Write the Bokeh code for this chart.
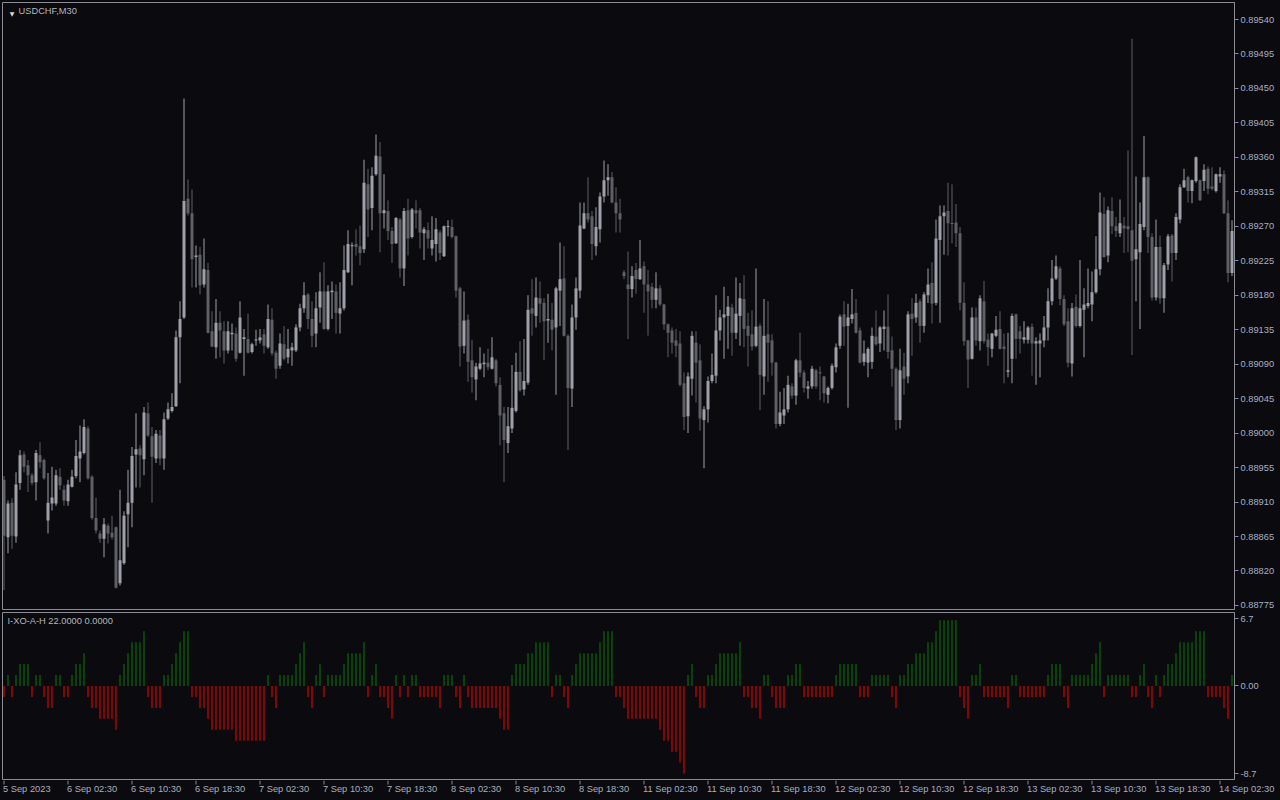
from bokeh.plotting import figure
from bokeh.layouts import column
from bokeh.models import (Range1d, LinearAxis, FixedTicker, PrintfTickFormatter,
                          ColumnDataSource, Label, GlobalInlineStyleSheet)
from bokeh.core.properties import value
from bokeh.embed import file_html
from bokeh.resources import INLINE

symbol_title = "USDCHF,M30"
indicator_title = "I-XO-A-H 22.0000 0.0000"

# ---- USDCHF M30 candles (5 Sep 2023 18:30 .. 14 Sep 2023 04:00) ----
open_ = [
    0.88939, 0.88864, 0.88909, 0.88865, 0.88935, 0.88972, 0.88958, 0.88945, 0.88936, 0.88971,
    0.88965, 0.88886, 0.88908, 0.88908, 0.88943, 0.88926, 0.88911, 0.88930, 0.88944, 0.88967,
    0.88974, 0.89006, 0.88943, 0.88889, 0.88869, 0.88862, 0.88879, 0.88870, 0.88877, 0.88804,
    0.88830, 0.88894, 0.88909, 0.88972, 0.88980, 0.88966, 0.89026, 0.88996, 0.88967, 0.88997,
    0.88967, 0.89019, 0.89029, 0.89035, 0.89125, 0.89151, 0.89306, 0.89287, 0.89230, 0.89233,
    0.89194, 0.89213, 0.89133, 0.89112, 0.89144, 0.89133, 0.89108, 0.89129, 0.89130, 0.89105,
    0.89123, 0.89123, 0.89106, 0.89121, 0.89121, 0.89129, 0.89112, 0.89148, 0.89105, 0.89088,
    0.89116, 0.89099, 0.89108, 0.89108, 0.89138, 0.89163, 0.89181, 0.89149, 0.89130, 0.89164,
    0.89185, 0.89136, 0.89184, 0.89185, 0.89156, 0.89163, 0.89210, 0.89244, 0.89247, 0.89244,
    0.89240, 0.89325, 0.89294, 0.89338, 0.89361, 0.89287, 0.89290, 0.89264, 0.89248, 0.89279,
    0.89215, 0.89291, 0.89256, 0.89291, 0.89291, 0.89261, 0.89265, 0.89241, 0.89247, 0.89262,
    0.89231, 0.89269, 0.89269, 0.89257, 0.89189, 0.89114, 0.89148, 0.89095, 0.89070, 0.89084,
    0.89090, 0.89092, 0.89084, 0.89095, 0.89063, 0.89026, 0.88987, 0.89006, 0.89029, 0.89080,
    0.89057, 0.89066, 0.89163, 0.89153, 0.89176, 0.89170, 0.89147, 0.89148, 0.89138, 0.89186,
    0.89202, 0.89127, 0.89058, 0.89151, 0.89186, 0.89267, 0.89287, 0.89283, 0.89244, 0.89266,
    0.89309, 0.89330, 0.89334, 0.89301, 0.89287, 0.89210, 0.89194, 0.89188, 0.89213, 0.89201,
    0.89218, 0.89194, 0.89191, 0.89174, 0.89189, 0.89168, 0.89142, 0.89134, 0.89121, 0.89117,
    0.89065, 0.89022, 0.89071, 0.89118, 0.89095, 0.89017, 0.89031, 0.89068, 0.89075, 0.89134,
    0.89151, 0.89153, 0.89164, 0.89131, 0.89153, 0.89175, 0.89140, 0.89129, 0.89114, 0.89140,
    0.89074, 0.89129, 0.89121, 0.89092, 0.89012, 0.89023, 0.89031, 0.89061, 0.89049, 0.89095,
    0.89079, 0.89058, 0.89061, 0.89082, 0.89079, 0.89074, 0.89050, 0.89059, 0.89086, 0.89114,
    0.89155, 0.89140, 0.89149, 0.89157, 0.89134, 0.89093, 0.89092, 0.89093, 0.89126, 0.89117,
    0.89136, 0.89139, 0.89108, 0.89084, 0.89017, 0.89087, 0.89074, 0.89156, 0.89151, 0.89172,
    0.89140, 0.89180, 0.89196, 0.89170, 0.89252, 0.89283, 0.89290, 0.89274, 0.89275, 0.89261,
    0.89170, 0.89121, 0.89097, 0.89151, 0.89120, 0.89172, 0.89122, 0.89110, 0.89127, 0.89136,
    0.89113, 0.89080, 0.89097, 0.89155, 0.89133, 0.89122, 0.89122, 0.89139, 0.89117, 0.89117,
    0.89121, 0.89138, 0.89172, 0.89202, 0.89215, 0.89175, 0.89146, 0.89091, 0.89165, 0.89140,
    0.89161, 0.89166, 0.89168, 0.89184, 0.89214, 0.89286, 0.89232, 0.89290, 0.89270, 0.89261,
    0.89271, 0.89270, 0.89265, 0.89227, 0.89236, 0.89269, 0.89334, 0.89256, 0.89177, 0.89243,
    0.89176, 0.89220, 0.89258, 0.89235, 0.89279, 0.89321, 0.89334, 0.89316, 0.89329, 0.89330,
    0.89329, 0.89345, 0.89322, 0.89316, 0.89335, 0.89338, 0.89287, 0.89209,
]
high = [
    0.88944, 0.88912, 0.88915, 0.88949, 0.88978, 0.88976, 0.88965, 0.88948, 0.88978, 0.88988,
    0.88967, 0.88948, 0.88956, 0.88952, 0.88954, 0.88932, 0.88939, 0.88952, 0.88991, 0.89010,
    0.89018, 0.89009, 0.88945, 0.88916, 0.88873, 0.88889, 0.88882, 0.88892, 0.88878, 0.88926,
    0.88898, 0.88952, 0.88982, 0.89026, 0.88984, 0.89034, 0.89040, 0.89008, 0.89004, 0.89004,
    0.89027, 0.89040, 0.89052, 0.89134, 0.89172, 0.89437, 0.89331, 0.89318, 0.89245, 0.89243,
    0.89254, 0.89222, 0.89159, 0.89175, 0.89159, 0.89146, 0.89146, 0.89143, 0.89138, 0.89172,
    0.89136, 0.89156, 0.89118, 0.89135, 0.89136, 0.89136, 0.89168, 0.89163, 0.89108, 0.89130,
    0.89140, 0.89136, 0.89118, 0.89142, 0.89169, 0.89197, 0.89183, 0.89172, 0.89184, 0.89210,
    0.89223, 0.89193, 0.89198, 0.89194, 0.89197, 0.89245, 0.89265, 0.89249, 0.89266, 0.89271,
    0.89357, 0.89345, 0.89347, 0.89390, 0.89380, 0.89338, 0.89304, 0.89269, 0.89282, 0.89281,
    0.89294, 0.89306, 0.89294, 0.89304, 0.89294, 0.89269, 0.89275, 0.89283, 0.89281, 0.89265,
    0.89271, 0.89278, 0.89279, 0.89258, 0.89191, 0.89185, 0.89155, 0.89122, 0.89092, 0.89112,
    0.89104, 0.89110, 0.89125, 0.89097, 0.89073, 0.89034, 0.89034, 0.89089, 0.89105, 0.89120,
    0.89123, 0.89180, 0.89201, 0.89203, 0.89198, 0.89176, 0.89182, 0.89170, 0.89191, 0.89249,
    0.89244, 0.89129, 0.89168, 0.89203, 0.89301, 0.89301, 0.89334, 0.89290, 0.89295, 0.89314,
    0.89356, 0.89351, 0.89341, 0.89321, 0.89306, 0.89213, 0.89237, 0.89218, 0.89222, 0.89252,
    0.89224, 0.89213, 0.89196, 0.89210, 0.89193, 0.89169, 0.89143, 0.89138, 0.89136, 0.89133,
    0.89079, 0.89079, 0.89133, 0.89133, 0.89116, 0.89035, 0.89074, 0.89104, 0.89180, 0.89161,
    0.89191, 0.89179, 0.89169, 0.89203, 0.89196, 0.89206, 0.89157, 0.89160, 0.89215, 0.89143,
    0.89175, 0.89172, 0.89129, 0.89093, 0.89054, 0.89059, 0.89075, 0.89065, 0.89097, 0.89131,
    0.89082, 0.89068, 0.89088, 0.89084, 0.89087, 0.89075, 0.89061, 0.89091, 0.89117, 0.89155,
    0.89172, 0.89169, 0.89188, 0.89175, 0.89138, 0.89121, 0.89112, 0.89138, 0.89160, 0.89140,
    0.89160, 0.89181, 0.89126, 0.89086, 0.89110, 0.89105, 0.89159, 0.89176, 0.89182, 0.89175,
    0.89184, 0.89215, 0.89223, 0.89279, 0.89297, 0.89297, 0.89327, 0.89325, 0.89299, 0.89269,
    0.89197, 0.89122, 0.89164, 0.89164, 0.89180, 0.89199, 0.89130, 0.89131, 0.89153, 0.89159,
    0.89130, 0.89131, 0.89156, 0.89156, 0.89140, 0.89146, 0.89140, 0.89143, 0.89125, 0.89130,
    0.89153, 0.89189, 0.89226, 0.89232, 0.89218, 0.89180, 0.89163, 0.89170, 0.89181, 0.89226,
    0.89189, 0.89215, 0.89211, 0.89257, 0.89314, 0.89308, 0.89296, 0.89308, 0.89282, 0.89305,
    0.89282, 0.89369, 0.89515, 0.89335, 0.89301, 0.89388, 0.89335, 0.89261, 0.89279, 0.89258,
    0.89222, 0.89260, 0.89260, 0.89287, 0.89325, 0.89345, 0.89336, 0.89331, 0.89361, 0.89331,
    0.89351, 0.89348, 0.89347, 0.89339, 0.89347, 0.89343, 0.89304, 0.89278,
]
low = [
    0.88795, 0.88843, 0.88849, 0.88857, 0.88926, 0.88949, 0.88923, 0.88932, 0.88912, 0.88954,
    0.88939, 0.88869, 0.88899, 0.88905, 0.88926, 0.88905, 0.88905, 0.88929, 0.88941, 0.88936,
    0.88972, 0.88939, 0.88887, 0.88869, 0.88857, 0.88838, 0.88856, 0.88861, 0.88797, 0.88801,
    0.88828, 0.88851, 0.88877, 0.88929, 0.88929, 0.88945, 0.88995, 0.88909, 0.88961, 0.88958,
    0.88952, 0.89017, 0.89027, 0.89034, 0.89065, 0.89149, 0.89284, 0.89190, 0.89190, 0.89181,
    0.89190, 0.89130, 0.89112, 0.89097, 0.89099, 0.89091, 0.89104, 0.89108, 0.89093, 0.89104,
    0.89075, 0.89104, 0.89104, 0.89114, 0.89117, 0.89104, 0.89110, 0.89101, 0.89071, 0.89084,
    0.89095, 0.89091, 0.89088, 0.89106, 0.89133, 0.89157, 0.89136, 0.89112, 0.89112, 0.89144,
    0.89135, 0.89134, 0.89149, 0.89130, 0.89130, 0.89160, 0.89209, 0.89193, 0.89232, 0.89219,
    0.89235, 0.89256, 0.89265, 0.89336, 0.89236, 0.89267, 0.89252, 0.89222, 0.89247, 0.89203,
    0.89192, 0.89232, 0.89254, 0.89267, 0.89241, 0.89226, 0.89241, 0.89232, 0.89224, 0.89226,
    0.89230, 0.89257, 0.89254, 0.89177, 0.89087, 0.89104, 0.89067, 0.89053, 0.89043, 0.89082,
    0.89073, 0.89082, 0.89083, 0.89061, 0.88984, 0.88936, 0.88974, 0.89000, 0.89027, 0.89054,
    0.89049, 0.89063, 0.89127, 0.89138, 0.89144, 0.89095, 0.89118, 0.89108, 0.89050, 0.89140,
    0.89126, 0.88978, 0.89034, 0.89135, 0.89176, 0.89266, 0.89275, 0.89226, 0.89232, 0.89249,
    0.89301, 0.89310, 0.89300, 0.89262, 0.89262, 0.89201, 0.89123, 0.89177, 0.89182, 0.89200,
    0.89157, 0.89127, 0.89163, 0.89163, 0.89166, 0.89135, 0.89099, 0.89104, 0.89099, 0.89061,
    0.89004, 0.89000, 0.89049, 0.89040, 0.89003, 0.88954, 0.89014, 0.89065, 0.89065, 0.89121,
    0.89097, 0.89110, 0.89101, 0.89123, 0.89114, 0.89112, 0.89087, 0.89108, 0.89112, 0.89030,
    0.89050, 0.89067, 0.89075, 0.89006, 0.89009, 0.89012, 0.89027, 0.89045, 0.89037, 0.89073,
    0.89053, 0.89045, 0.89058, 0.89058, 0.89043, 0.89040, 0.89039, 0.89057, 0.89079, 0.89110,
    0.89114, 0.89033, 0.89143, 0.89130, 0.89091, 0.89088, 0.89073, 0.89084, 0.89114, 0.89106,
    0.89108, 0.89097, 0.89061, 0.89004, 0.89006, 0.89050, 0.89065, 0.89101, 0.89144, 0.89118,
    0.89131, 0.89170, 0.89143, 0.89167, 0.89144, 0.89233, 0.89232, 0.89248, 0.89243, 0.89160,
    0.89114, 0.89059, 0.89096, 0.89114, 0.89108, 0.89117, 0.89088, 0.89099, 0.89125, 0.89109,
    0.89065, 0.89073, 0.89065, 0.89097, 0.89104, 0.89117, 0.89117, 0.89075, 0.89063, 0.89073,
    0.89112, 0.89121, 0.89167, 0.89200, 0.89167, 0.89140, 0.89086, 0.89074, 0.89138, 0.89138,
    0.89099, 0.89163, 0.89146, 0.89182, 0.89206, 0.89229, 0.89223, 0.89260, 0.89256, 0.89256,
    0.89235, 0.89236, 0.89102, 0.89172, 0.89136, 0.89265, 0.89235, 0.89173, 0.89173, 0.89169,
    0.89157, 0.89213, 0.89198, 0.89226, 0.89274, 0.89320, 0.89301, 0.89300, 0.89327, 0.89303,
    0.89316, 0.89312, 0.89317, 0.89314, 0.89327, 0.89286, 0.89197, 0.89205,
]
close = [
    0.88866, 0.88908, 0.88866, 0.88933, 0.88971, 0.88956, 0.88945, 0.88935, 0.88974, 0.88962,
    0.88941, 0.88909, 0.88916, 0.88945, 0.88932, 0.88912, 0.88933, 0.88943, 0.88970, 0.88976,
    0.89008, 0.88941, 0.88889, 0.88873, 0.88862, 0.88881, 0.88869, 0.88864, 0.88798, 0.88834,
    0.88892, 0.88909, 0.88970, 0.88979, 0.88971, 0.89027, 0.88997, 0.88969, 0.88999, 0.88967,
    0.89018, 0.89031, 0.89034, 0.89125, 0.89149, 0.89303, 0.89287, 0.89227, 0.89232, 0.89193,
    0.89214, 0.89131, 0.89113, 0.89144, 0.89134, 0.89108, 0.89133, 0.89131, 0.89097, 0.89151,
    0.89125, 0.89105, 0.89116, 0.89122, 0.89125, 0.89114, 0.89149, 0.89104, 0.89084, 0.89117,
    0.89097, 0.89110, 0.89112, 0.89138, 0.89163, 0.89180, 0.89149, 0.89127, 0.89163, 0.89185,
    0.89136, 0.89185, 0.89186, 0.89157, 0.89163, 0.89213, 0.89247, 0.89245, 0.89243, 0.89235,
    0.89327, 0.89292, 0.89336, 0.89362, 0.89287, 0.89291, 0.89264, 0.89247, 0.89281, 0.89215,
    0.89290, 0.89254, 0.89292, 0.89287, 0.89262, 0.89266, 0.89254, 0.89252, 0.89266, 0.89235,
    0.89270, 0.89270, 0.89256, 0.89186, 0.89113, 0.89147, 0.89093, 0.89073, 0.89087, 0.89091,
    0.89092, 0.89086, 0.89099, 0.89065, 0.89023, 0.88991, 0.89009, 0.89033, 0.89080, 0.89056,
    0.89068, 0.89161, 0.89156, 0.89177, 0.89169, 0.89146, 0.89149, 0.89135, 0.89189, 0.89201,
    0.89127, 0.89059, 0.89151, 0.89189, 0.89271, 0.89287, 0.89279, 0.89247, 0.89269, 0.89309,
    0.89330, 0.89334, 0.89301, 0.89287, 0.89279, 0.89205, 0.89188, 0.89205, 0.89201, 0.89215,
    0.89194, 0.89185, 0.89174, 0.89189, 0.89168, 0.89142, 0.89131, 0.89118, 0.89114, 0.89063,
    0.89021, 0.89074, 0.89127, 0.89092, 0.89019, 0.89031, 0.89068, 0.89076, 0.89134, 0.89151,
    0.89155, 0.89165, 0.89131, 0.89156, 0.89176, 0.89136, 0.89127, 0.89113, 0.89139, 0.89076,
    0.89127, 0.89118, 0.89092, 0.89012, 0.89027, 0.89031, 0.89063, 0.89049, 0.89095, 0.89079,
    0.89059, 0.89061, 0.89084, 0.89061, 0.89078, 0.89052, 0.89059, 0.89088, 0.89112, 0.89152,
    0.89139, 0.89151, 0.89155, 0.89131, 0.89092, 0.89104, 0.89110, 0.89127, 0.89116, 0.89138,
    0.89139, 0.89106, 0.89084, 0.89017, 0.89082, 0.89071, 0.89155, 0.89149, 0.89170, 0.89140,
    0.89181, 0.89194, 0.89169, 0.89254, 0.89283, 0.89288, 0.89274, 0.89273, 0.89261, 0.89170,
    0.89120, 0.89096, 0.89151, 0.89121, 0.89176, 0.89120, 0.89112, 0.89130, 0.89135, 0.89110,
    0.89110, 0.89082, 0.89153, 0.89123, 0.89123, 0.89125, 0.89138, 0.89117, 0.89120, 0.89121,
    0.89138, 0.89172, 0.89202, 0.89218, 0.89175, 0.89142, 0.89092, 0.89163, 0.89140, 0.89163,
    0.89168, 0.89170, 0.89184, 0.89214, 0.89288, 0.89230, 0.89291, 0.89270, 0.89264, 0.89274,
    0.89267, 0.89266, 0.89225, 0.89240, 0.89273, 0.89334, 0.89256, 0.89177, 0.89243, 0.89176,
    0.89219, 0.89257, 0.89235, 0.89282, 0.89321, 0.89330, 0.89316, 0.89330, 0.89360, 0.89304,
    0.89344, 0.89319, 0.89319, 0.89338, 0.89338, 0.89287, 0.89209, 0.89264,
]

# ---- I-XO-A-H histogram values ----
xo_hist = [
    -1.09, 1.09, -1.09, 1.09, 2.18, 2.18, 2.18, -1.09, 1.09, 1.09,
    -1.09, -2.18, -2.18, 1.09, 1.09, -1.09, -1.09, 1.09, 2.18, 2.18,
    3.26, -1.09, -2.18, -2.18, -3.26, -3.26, -3.26, -3.26, -4.35, 1.09,
    2.18, 3.26, 4.35, 4.35, 4.35, 5.44, -1.09, -2.18, -2.18, -2.18,
    1.09, 1.09, 2.18, 3.26, 4.35, 5.44, 5.44, -1.09, -1.09, -2.18,
    -2.18, -3.26, -4.35, -4.35, -4.35, -4.35, -4.35, -4.35, -5.44, -5.44,
    -5.44, -5.44, -5.44, -5.44, -5.44, -5.44, 1.09, -1.09, -2.18, 1.09,
    1.09, 1.09, 1.09, 2.18, 3.26, 4.35, -1.09, -2.18, 1.09, 2.18,
    -1.09, 1.09, 1.09, 1.09, 1.09, 2.18, 3.26, 3.26, 3.26, 3.26,
    4.35, -1.09, 1.09, 2.18, -1.09, -1.09, -2.18, -3.26, 1.09, -1.09,
    1.09, -1.09, 1.09, 1.09, -1.09, -1.09, -1.09, -1.09, -1.09, -2.18,
    1.09, 1.09, 1.09, -1.09, -2.18, 1.09, -1.09, -2.18, -2.18, -2.18,
    -2.18, -2.18, -2.18, -2.18, -3.26, -4.35, -4.35, 1.09, 2.18, 2.18,
    2.18, 3.26, 3.26, 4.35, 4.35, 4.35, 4.35, -1.09, 1.09, 1.09,
    -1.09, -2.18, 1.09, 2.18, 3.26, 3.26, 3.26, 3.26, 3.26, 4.35,
    5.44, 5.44, 5.44, -1.09, -1.09, -2.18, -3.26, -3.26, -3.26, -3.26,
    -3.26, -3.26, -3.26, -3.26, -4.35, -5.44, -5.44, -6.53, -6.53, -7.61,
    -8.70, 1.09, 2.18, -1.09, -2.18, -2.18, 1.09, 1.09, 2.18, 3.26,
    3.26, 3.26, 3.26, 3.26, 4.35, -1.09, -1.09, -2.18, -2.18, -3.26,
    1.09, 1.09, -1.09, -2.18, -2.18, -2.18, 1.09, 1.09, 2.18, 2.18,
    -1.09, -1.09, -1.09, -1.09, -1.09, -1.09, -1.09, -1.09, 1.09, 2.18,
    2.18, 2.18, 2.18, 2.18, -1.09, -1.09, -1.09, 1.09, 1.09, 1.09,
    1.09, 1.09, -1.09, -2.18, 1.09, 1.09, 2.18, 2.18, 3.26, 3.26,
    3.26, 4.35, 4.35, 5.44, 6.53, 6.53, 6.53, 6.53, 6.53, -1.09,
    -2.18, -3.26, 1.09, 1.09, 2.18, -1.09, -1.09, -1.09, -1.09, -1.09,
    -1.09, -2.18, 1.09, 1.09, -1.09, -1.09, -1.09, -1.09, -1.09, -1.09,
    -1.09, 1.09, 2.18, 2.18, 2.18, -1.09, -2.18, 1.09, 1.09, 1.09,
    1.09, 1.09, 2.18, 3.26, 4.35, -1.09, 1.09, 1.09, 1.09, 1.09,
    1.09, 1.09, -1.09, -1.09, 1.09, 2.18, -1.09, -2.18, 1.09, -1.09,
    1.09, 2.18, 2.18, 3.26, 4.35, 4.35, 4.35, 4.35, 5.44, 5.44,
    5.44, -1.09, -1.09, -1.09, -1.09, -2.18, -3.26, 1.09,
]

time_tick_bars = [0, 16, 32, 48, 64, 80, 96, 112, 128, 144,
                  160, 176, 192, 208, 224, 240, 256, 272, 288, 304]
time_tick_labels = ["5 Sep 2023", "6 Sep 02:30", "6 Sep 10:30", "6 Sep 18:30",
                    "7 Sep 02:30", "7 Sep 10:30", "7 Sep 18:30", "8 Sep 02:30",
                    "8 Sep 10:30", "8 Sep 18:30", "11 Sep 02:30", "11 Sep 10:30",
                    "11 Sep 18:30", "12 Sep 02:30", "12 Sep 10:30", "12 Sep 18:30",
                    "13 Sep 02:30", "13 Sep 10:30", "13 Sep 18:30", "14 Sep 02:30"]
price_ticks = [0.88775, 0.88820, 0.88865, 0.88910, 0.88955, 0.89000, 0.89045,
               0.89090, 0.89135, 0.89180, 0.89225, 0.89270, 0.89315, 0.89360,
               0.89405, 0.89450, 0.89495, 0.89540]
xo_ticks = [-8.7, 0.0, 6.7]
xo_tick_labels = ["-8.7", "0.00", "6.7"]

N = len(close)
assert len(open_) == N and len(high) == N and len(low) == N and len(xo_hist) == N

# ---- styling ----
BG = "#0a0a0f"
FRAME = "#8c8c94"
TXT_AXIS = "#a6b0c3"
TXT_PANEL = "#b4b6be"
BULL = "#a0a0aa"
BEAR = "#5f5f66"
HIST_UP = "#008000"
HIST_DN = "#ff0000"
FONT = "Liberation Sans"
FS = "9.3px"

bars = list(range(N))
x_range = Range1d(-0.375, N - 0.375)          # 4 px per bar, bar i centred at 3.5 + 4 i
price_range = Range1d(0.887697, 0.895622)
PRICE_FRAME_H = 607
px_price = (price_range.end - price_range.start) / PRICE_FRAME_H

bottoms = [min(o, c) for o, c in zip(open_, close)]
tops = [max(max(o, c), b + px_price) for o, c, b in zip(open_, close, bottoms)]
ccol = [BULL if c >= o else BEAR for o, c in zip(open_, close)]
csrc = ColumnDataSource(dict(x=bars, high=high, low=low, top=tops, bottom=bottoms, color=ccol))


def style_axis(ax):
    ax.axis_line_color = FRAME
    ax.major_tick_line_color = FRAME
    ax.major_tick_out = 4
    ax.major_tick_in = 0
    ax.minor_tick_line_color = None
    ax.major_label_text_color = TXT_AXIS
    ax.major_label_text_font = FONT
    ax.major_label_text_font_size = FS
    ax.major_label_standoff = 2


def base_fig(height, y_range, top, bottom):
    f = figure(width=1280, height=height, x_range=x_range, y_range=y_range,
               output_backend="svg", toolbar_location=None,
               x_axis_location=None, y_axis_location=None,
               min_border_left=2, min_border_right=46,
               min_border_top=top, min_border_bottom=bottom,
               background_fill_color=BG, border_fill_color=BG,
               outline_line_color=FRAME, outline_line_width=1)
    f.xgrid.visible = False
    f.ygrid.visible = False
    return f


# ---- price panel ----
p = base_fig(610, price_range, 2, 1)
p.vbar(x="x", width=0.25, top="high", bottom="low", fill_color="color",
       line_color=None, source=csrc)
p.vbar(x="x", width=0.75, top="top", bottom="bottom", fill_color="color",
       line_color=None, source=csrc)

pax = LinearAxis(ticker=FixedTicker(ticks=price_ticks), formatter=PrintfTickFormatter(format="%.5f"))
style_axis(pax)
p.add_layout(pax, "right")

p.add_layout(Label(x=x_range.start, y=price_range.end, x_offset=9.5, y_offset=-10.5,
                   text="\u25BC", text_align="center", text_baseline="middle",
                   text_font="DejaVu Sans", text_font_size="6px", text_color="#d8d8d8"))
p.add_layout(Label(x=x_range.start, y=price_range.end, x_offset=16, y_offset=-3,
                   text=symbol_title, text_align="left", text_baseline="top",
                   text_font=FONT, text_font_size=FS, text_color=TXT_PANEL))

# ---- indicator panel ----
xo_range = Range1d(-9.29, 7.30)
h = base_fig(170, xo_range, 2, 1)
hcol = [HIST_UP if v > 0 else HIST_DN for v in xo_hist]
hsrc = ColumnDataSource(dict(x=bars, v=xo_hist, color=hcol))
h.vbar(x="x", width=0.25, top="v", bottom=0, fill_color="color", line_color=None, source=hsrc)

hy = LinearAxis(ticker=FixedTicker(ticks=xo_ticks),
                major_label_overrides=dict(zip(xo_ticks, xo_tick_labels)))
style_axis(hy)
h.add_layout(hy, "right")

h.add_layout(Label(x=x_range.start, y=xo_range.end, x_offset=5, y_offset=-3.5,
                   text=indicator_title, text_align="left", text_baseline="top",
                   text_font=FONT, text_font_size=FS, text_color=TXT_PANEL))

# ---- time scale strip (ticks + left-aligned labels, MT4 style) ----
t_range = Range1d(x_range.start - 0.5, x_range.start - 0.5 + 320)   # full 1280 px wide
t = figure(width=1280, height=20, x_range=t_range, y_range=Range1d(0, 20),
           output_backend="svg", toolbar_location=None,
           x_axis_location=None, y_axis_location=None,
           min_border_left=0, min_border_right=0, min_border_top=0, min_border_bottom=0,
           background_fill_color=BG, border_fill_color=BG, outline_line_color=None)
t.frame_align = False
t.xgrid.visible = False
t.ygrid.visible = False
tsrc = ColumnDataSource(dict(x=time_tick_bars, text=time_tick_labels))
t.vbar(x="x", width=0.25, top=20, bottom=16, fill_color=FRAME, line_color=None, source=tsrc)
t.text(x="x", y=16.7, text="text", source=tsrc, x_offset=-1,
       text_align="left", text_baseline="top", text_font=value(FONT),
       text_font_size=value(FS), text_color=TXT_AXIS)

layout = column(p, h, t, spacing=0)
layout.stylesheets = [GlobalInlineStyleSheet(
    css="html, body { margin: 0 !important; padding: 0; background: #0a0a0f; overflow: hidden; }")]

open("out.html", "w").write(file_html(layout, INLINE, title="USDCHF,M30"))
